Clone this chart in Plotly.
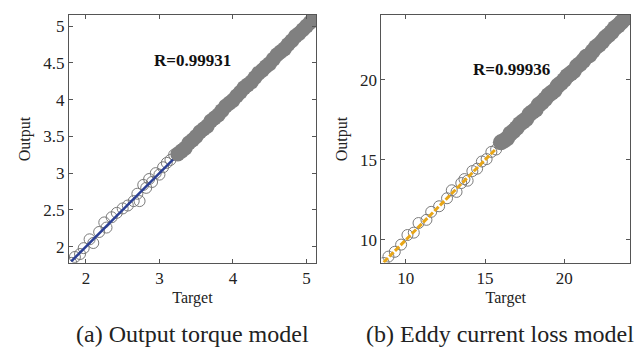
import plotly.graph_objects as go

# ---------- data: (a) output torque model ----------
torque_low_target = [1.80, 1.85, 1.92, 1.97, 2.05, 2.10, 2.18, 2.25, 2.28, 2.35, 2.42, 2.50, 2.57,
                     2.65, 2.70, 2.73, 2.78, 2.82, 2.86, 2.90, 2.95, 3.00, 3.05, 3.10, 3.15, 3.20]
torque_low_output = [1.78, 1.86, 1.90, 1.98, 2.10, 2.05, 2.20, 2.33, 2.26, 2.40, 2.46, 2.52, 2.56,
                     2.62, 2.72, 2.62, 2.84, 2.80, 2.92, 2.88, 3.00, 2.98, 3.08, 3.14, 3.18, 3.25]
torque_high_target = [3.25, 3.30, 3.35, 3.40, 3.45, 3.50, 3.55, 3.60, 3.65, 3.70, 3.75, 3.80, 3.85,
                      3.90, 3.95, 4.00, 4.05, 4.10, 4.15, 4.20, 4.25, 4.30, 4.35, 4.40, 4.45, 4.50,
                      4.55, 4.60, 4.65, 4.70, 4.75, 4.80, 4.85, 4.90, 4.95, 5.00, 5.05, 5.10, 5.12]
torque_high_output = [3.26, 3.30, 3.34, 3.41, 3.45, 3.50, 3.56, 3.60, 3.64, 3.71, 3.75, 3.79, 3.85,
                      3.91, 3.95, 3.99, 4.05, 4.10, 4.16, 4.20, 4.24, 4.30, 4.36, 4.40, 4.45, 4.49,
                      4.55, 4.61, 4.65, 4.69, 4.75, 4.80, 4.86, 4.90, 4.95, 5.00, 5.05, 5.10, 5.12]
torque_fit = [1.80, 5.12]
torque_R = "R=0.99931"

# ---------- data: (b) eddy current loss model ----------
eddy_low_target = [8.6, 8.9, 9.3, 9.7, 10.1, 10.5, 10.8, 11.3, 11.6, 12.1, 12.6, 12.9, 13.2,
                   13.5, 13.7, 13.9, 14.2, 14.5, 14.8, 15.1, 15.4, 15.7, 16.0]
eddy_low_output = [8.55, 8.95, 9.25, 9.7, 10.3, 10.45, 11.05, 11.25, 11.75, 12.1, 12.6, 13.1, 13.0,
                   13.55, 13.8, 13.7, 14.3, 14.45, 14.9, 15.05, 15.5, 15.65, 16.1]
eddy_high_target = [16.0, 16.2, 16.4, 16.6, 16.8, 17.0, 17.2, 17.4, 17.6, 17.8, 18.0, 18.2, 18.4,
                    18.6, 18.8, 19.0, 19.2, 19.4, 19.6, 19.8, 20.0, 20.2, 20.4, 20.6, 20.8, 21.0,
                    21.2, 21.4, 21.6, 21.8, 22.0, 22.2, 22.4, 22.6, 22.8, 23.0, 23.2, 23.4, 23.6,
                    23.8, 24.0]
eddy_high_output = [16.1, 16.2, 16.35, 16.65, 16.8, 17.0, 17.25, 17.4, 17.55, 17.85, 18.0, 18.15,
                    18.45, 18.6, 18.8, 19.05, 19.2, 19.35, 19.65, 19.8, 20.0, 20.25, 20.4, 20.55,
                    20.85, 21.0, 21.2, 21.45, 21.55, 21.8, 22.05, 22.2, 22.4, 22.65, 22.8, 23.0,
                    23.25, 23.4, 23.6, 23.8, 24.0]
eddy_fit = [8.6, 24.0]
eddy_R = "R=0.99936"

captions = ["(a) Output torque model", "(b) Eddy current loss model"]

FONT = "Liberation Serif, Times New Roman, serif"
GRAY_EDGE = "#7a7a7a"
GRAY_FILL = "#808080"

fig = go.Figure()

def add_panel(xa, ya, lt, lo, ht, ho, fit, color, dash, band_size, lw):
    fig.add_trace(go.Scatter(x=lt, y=lo, mode="markers", xaxis=xa, yaxis=ya,
                             marker=dict(symbol="circle-open", size=11, color=GRAY_EDGE,
                                         line=dict(width=1)), showlegend=False))
    fig.add_trace(go.Scatter(x=fit, y=fit, mode="lines", xaxis=xa, yaxis=ya,
                             line=dict(color=color, width=lw, dash=dash), showlegend=False))
    fig.add_trace(go.Scatter(x=ht, y=ho, mode="markers", xaxis=xa, yaxis=ya,
                             marker=dict(symbol="circle", size=band_size, color=GRAY_FILL,
                                         line=dict(color=GRAY_FILL, width=0)), showlegend=False))

add_panel("x", "y", torque_low_target, torque_low_output, torque_high_target,
          torque_high_output, torque_fit, "#2b3f94", "solid", 15, 2.5)
add_panel("x2", "y2", eddy_low_target, eddy_low_output, eddy_high_target,
          eddy_high_output, eddy_fit, "#e8a617", "6px,2px", 16, 3)

axis_common = dict(showline=True, linecolor="#555555", linewidth=1, mirror="ticks",
                   ticks="inside", ticklen=4, tickcolor="#555555", showgrid=False,
                   zeroline=False, tickfont=dict(family=FONT, size=17, color="#222222"))

fig.update_layout(
    width=639, height=350, margin=dict(l=0, r=0, t=0, b=0),
    paper_bgcolor="white", plot_bgcolor="white",
    font=dict(family=FONT, color="#222222"),
    xaxis=dict(domain=[0.108, 0.4945], range=[1.77, 5.13], tickvals=[2, 3, 4, 5],
               title=dict(text="Target", font=dict(family=FONT, size=16), standoff=4),
               anchor="y", **axis_common),
    yaxis=dict(domain=[0.249, 0.957], range=[1.78, 5.15],
               tickvals=[2, 2.5, 3, 3.5, 4, 4.5, 5],
               title=dict(text="Output", font=dict(family=FONT, size=16), standoff=8),
               anchor="x", **axis_common),
    xaxis2=dict(domain=[0.597, 0.986], range=[8.46, 24.16], tickvals=[10, 15, 20],
                title=dict(text="Target", font=dict(family=FONT, size=16), standoff=4),
                anchor="y2", **axis_common),
    yaxis2=dict(domain=[0.249, 0.957], range=[8.56, 24.06], tickvals=[10, 15, 20],
                title=dict(text="Output", font=dict(family=FONT, size=16), standoff=8),
                anchor="x2", **axis_common),
)

def note(text, px, py, size, color="#222222"):
    fig.add_annotation(text=text, xref="paper", yref="paper", x=px / 639, y=1 - py / 350,
                       xanchor="center", yanchor="middle", showarrow=False,
                       font=dict(family=FONT, size=size, color=color))

note("<b>" + torque_R + "</b>", 193, 61, 17, "#111111")
note("<b>" + eddy_R + "</b>", 511, 69, 17, "#111111")
note(captions[0], 192, 334, 24)
note(captions[1], 500, 334, 24)

fig.write_html("out.html")
